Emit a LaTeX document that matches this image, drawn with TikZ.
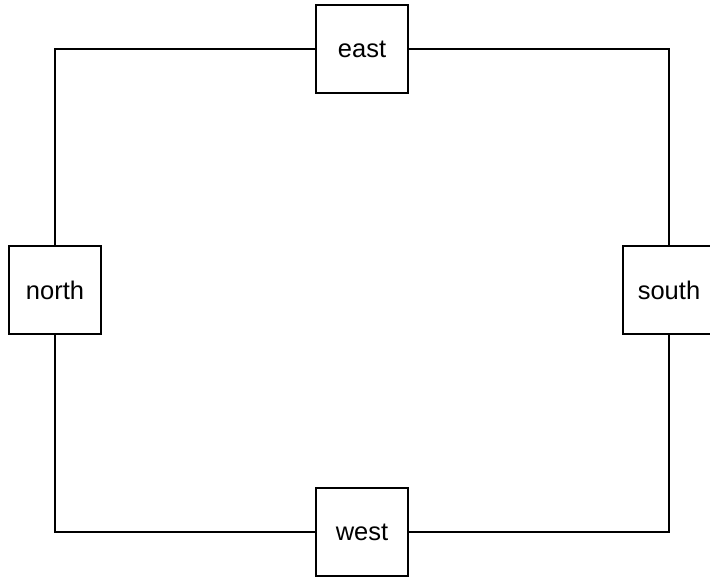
\documentclass[tikz,border=0pt]{standalone}
\usepackage{fontspec}
\setmainfont{Liberation Sans}
\begin{document}
\begin{tikzpicture}[x=1pt,y=-1pt,
  box/.style={draw=black,fill=white,line width=2.6pt,minimum width=92pt,minimum height=88pt,inner sep=0pt,font=\fontsize{25.5}{30}\selectfont},
  wire/.style={draw=black,line width=2.6pt}]
\useasboundingbox (0,0) rectangle (710,577);
\node[box] (east) at (362,49) {east};
\node[box] (north) at (55,290) {north};
\node[box] (south) at (669,290) {south};
\node[box] (west) at (362,532) {west};
\draw[wire] (east.west) -| (north.north);
\draw[wire] (east.east) -| (south.north);
\draw[wire] (north.south) |- (west.west);
\draw[wire] (south.south) |- (west.east);
\end{tikzpicture}
\end{document}
